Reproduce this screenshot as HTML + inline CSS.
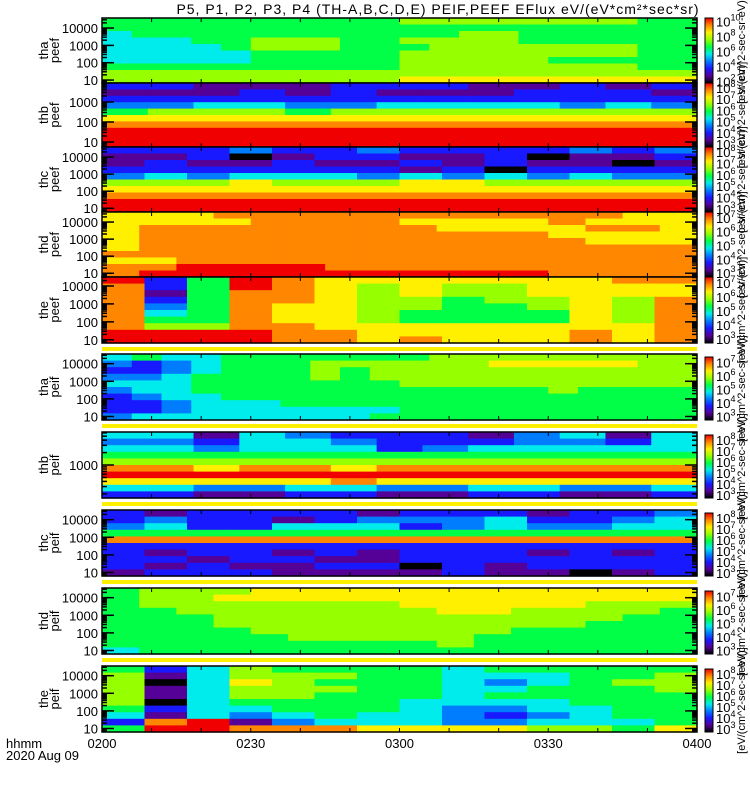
<!DOCTYPE html>
<html><head><meta charset="utf-8">
<style>
html,body{margin:0;padding:0;background:#fff;width:750px;height:800px;overflow:hidden}
svg{display:block}
text{font-family:"Liberation Sans",sans-serif;fill:#000}
</style></head>
<body>
<svg id="chart" width="750" height="800" viewBox="0 0 750 800" xmlns="http://www.w3.org/2000/svg">
<text x="438" y="14" font-size="14" text-anchor="middle" letter-spacing="1.0">P5, P1, P2, P3, P4 (TH-A,B,C,D,E) PEIF,PEEF EFlux eV/(eV*cm²*sec*sr)</text>
<text x="6" y="748" font-size="13">hhmm</text>
<text x="6" y="760" font-size="13">2020 Aug 09</text>
<g id="layer"></g>
</svg>
<script>
// ---- data: color level 0..9 per cell (rows top->bottom, or columns left->right) ----
const timeLabels = ["0200","0230","0300","0330","0400"];
const panelNames = ["tha peef","thb peef","thc peef","thd peef","the peef","tha peif","thb peif","thc peif","thd peif","the peif"];
const thaPeef = ["55555555556666666655","55555555555555555555","45555555555566555555","44455666556666555555","44445666555666666655","44444555556666666655","44444555556666655555","55555555556666666655","66666666666666666666","66666666667777777777"];
const thbPeef = ["2211122211212","1112121112221","2222222222222","3344334444343","5666566666666","7777777777777","8888888888888","9999999999999","9999999999999","9999999999999"];
const thcPeef = ["22232232222323","11201221120112","12112112121101","22222221202222","34344434343433","66676667766666","77777777777777","88888888888888","99999999999999","99999999999999"];
const thdPeef = ["7778888888888877","7777888877778777","7888888887777887","7888888888887777","7888888888888777","7888888888888888","8888888888888888","7788888888888888","8899998888888888","8999999999998888"];
const thePeefCols = ["9888888899","2212345699","5555555699","9988888899","8888777888","7777777788","7666666777","7776655778","7665555777","7666555777","7776655777","7777777788","8776666777","8778888888"];
const thaPeif = ["45445555555666666666","32345556666667777766","22345556566666666666","33455556566666666666","44455555556666666666","34455555555555565555","23445555555555555555","22344455555555555555","22344444445555555555","34444444455555555555"];
const thbPeif = ["4414322213414","3324432223324","4434442344444","5555555555555","6666666666666","8878878888888","9999999999999","7777787777777","4433443344334","2211221122112"];
const thcPeif = ["21222212221223","23221233342234","34224442343344","55555555555555","88888888888888","22222222222222","21221212221212","22122112222222","21211220212222","12221111211012"];
const thdPeif = ["5666777777777777","5667777777777777","5666666677777666","5566666667766665","5556666666666655","5556666666666555","5555666666655555","5555566666555555","5555555556555555","4555555555555555"];
const thePeifCols = ["5666665425","2101102189","4444444499","6676654318","5666655438","5656555548","5555555447","5555544447","4444443337","5434543237","5445544346","5555554446","5565555545","5666555557"];
const cbExponents = [[10,8,6,4,2],[8,7,6,5,4,3],[8,7,6,5,4,3],[7,6,5,4,3],[7,6,5,4,3],[7,6,5,4,3],[8,7,6,5,4,3],[8,7,6,5,4,3],[7,6,5,4,3],[8,7,6,5,4,3]];
const yTickValues = [[10,100,1000,10000],[10,100,1000],[10,100,1000,10000],[10,100,1000,10000],[10,100,1000,10000],[10,100,1000,10000],[1000],[10,100,1000,10000],[10,100,1000,10000],[10,100,1000,10000]];

function transpose(cols){const n=cols[0].length;const r=[];for(let i=0;i<n;i++){let s="";for(const c of cols)s+=c[i];r.push(s);}return r;}
const panelData=[thaPeef,thbPeef,thcPeef,thdPeef,transpose(thePeefCols),thaPeif,thbPeif,thcPeif,thdPeif,transpose(thePeifCols)];

const X0=102,X1=697;
const layout=[
 {top:18,bot:83,dTop:18,lmin:0.83,lmax:4.58},
 {top:83,bot:147,dTop:83,lmin:0.75,lmax:3.95},
 {top:147,bot:212,dTop:147,lmin:0.78,lmax:4.59},
 {top:212,bot:277,dTop:212,lmin:0.78,lmax:4.59},
 {top:277,bot:343,dTop:277,lmin:0.82,lmax:4.5},
 {top:343,bot:420,dTop:354,lmin:0.8,lmax:4.55,peif:true},
 {top:420,bot:498,dTop:432,lmin:2.2,lmax:3.8,peif:true},
 {top:498,bot:576,dTop:510,lmin:0.8,lmax:4.55,peif:true},
 {top:576,bot:654,dTop:588,lmin:0.8,lmax:4.55,peif:true},
 {top:654,bot:732,dTop:666,lmin:0.8,lmax:4.55,peif:true}
];
const cmap=[[0,0,0],[85,0,150],[25,25,255],[0,125,255],[0,235,235],[0,255,70],[150,255,0],[255,240,0],[255,135,0],[240,0,0]];
function col(v){const c=cmap[v];return `rgb(${c[0]},${c[1]},${c[2]})`;}
const tScale=m=>X0+(X1-X0)*m/120;
const NS="http://www.w3.org/2000/svg";
const layer=document.getElementById('layer');
function mk(tag,attrs,parent){const e=document.createElementNS(NS,tag);for(const k in attrs)e.setAttribute(k,attrs[k]);(parent||layer).appendChild(e);return e;}

layout.forEach((L,pi)=>{
 const g=mk('g',{});
 
 
 const rows=panelData[pi];
 const nR=rows.length,nC=rows[0].length;
 const yS=lv=>L.bot-(lv-L.lmin)/(L.lmax-L.lmin)*(L.bot-L.dTop);
 if(L.peif){
  const st=mk('rect',{x:X0,y:L.top+4,width:X1-X0,height:4,fill:'rgb(255,240,0)'},g);
  
  
 }
 const h=(L.bot-L.dTop)/nR,w=(X1-X0)/nC;
 for(let r=0;r<nR;r++)for(let c=0;c<nC;c++){
  const cell=mk('rect',{x:(X0+c*w).toFixed(2),y:(L.dTop+r*h).toFixed(2),width:(w+0.6).toFixed(2),height:(h+0.6).toFixed(2),fill:col(+rows[r][c])},g);
  
  
 }
 const fr=mk('rect',{x:X0,y:L.dTop,width:X1-X0,height:L.bot-L.dTop,fill:'none',stroke:'#000','stroke-width':1.5},g);
 
 
 for(let d=0;d<=5;d++)for(let k=1;k<10;k++){
  const lv=d+Math.log10(k);
  if(lv<L.lmin||lv>L.lmax)continue;
  const y=yS(lv),len=k==1?12:5;
  mk('line',{x1:X0,x2:X0+len,y1:y,y2:y,stroke:'#000','stroke-width':1.5},g);
  mk('line',{x1:X1,x2:X1-len,y1:y,y2:y,stroke:'#000','stroke-width':1.5},g);
 }
 yTickValues[pi].forEach(v=>{
  const t=mk('text',{x:98,y:yS(Math.log10(v))+5,'font-size':13,'text-anchor':'end'},g);
  t.textContent=v;
  
  
 });
 for(let m=0;m<=120;m+=10){
  const x=tScale(m);
  mk('line',{x1:x,x2:x,y1:L.dTop,y2:L.dTop+4,stroke:'#000','stroke-width':1},g);
  mk('line',{x1:x,x2:x,y1:L.bot,y2:L.bot-4,stroke:'#000','stroke-width':1},g);
 }
 const [a,b]=panelNames[pi].split(' ');
 const cy=(L.dTop+L.bot)/2;
 const yt=mk('text',{transform:`translate(48,${cy}) rotate(-90)`,'font-size':13,'text-anchor':'middle'},g);
 
 
 const t1=mk('tspan',{x:0,y:0},yt);t1.textContent=a;
 const t2=mk('tspan',{x:0,y:11},yt);t2.textContent=b;
 const cbT=L.dTop+(L.peif?3:0),cbB=L.bot;
 const gid='grad'+pi;
 const defs=mk('defs',{},g);
 const gr=mk('linearGradient',{id:gid,x1:0,y1:1,x2:0,y2:0},defs);
 cmap.forEach((c,i)=>mk('stop',{offset:i/9,'stop-color':col(i)},gr));
 const cb=mk('rect',{x:705,y:cbT,width:8,height:cbB-cbT,fill:`url(#${gid})`,stroke:'#000','stroke-width':1},g);
 
 
 const ex=cbExponents[pi],emax=ex[0],emin=ex[ex.length-1];
 ex.forEach(e=>{
  const y=cbB-(e-emin+0.35)/(emax-emin+0.7)*(cbB-cbT);
  const t=mk('text',{x:716,y:y+6,'font-size':13},g);
  
  
  t.textContent='10';
  const s=mk('tspan',{dy:-6,'font-size':9},t);s.textContent=e;
 });
 const cl=mk('text',{transform:`translate(745,${(cbT+cbB)/2}) rotate(-90)`,'font-size':11,'text-anchor':'middle'},g);
 
 
 cl.textContent='[eV/(cm^2-sec-sr-eV)]';
});
timeLabels.forEach((s,i)=>{
 const t=mk('text',{x:tScale(i*30),y:748,'font-size':13,'text-anchor':'middle'});
 
 
 t.textContent=s;
});
</script>
</body></html>
